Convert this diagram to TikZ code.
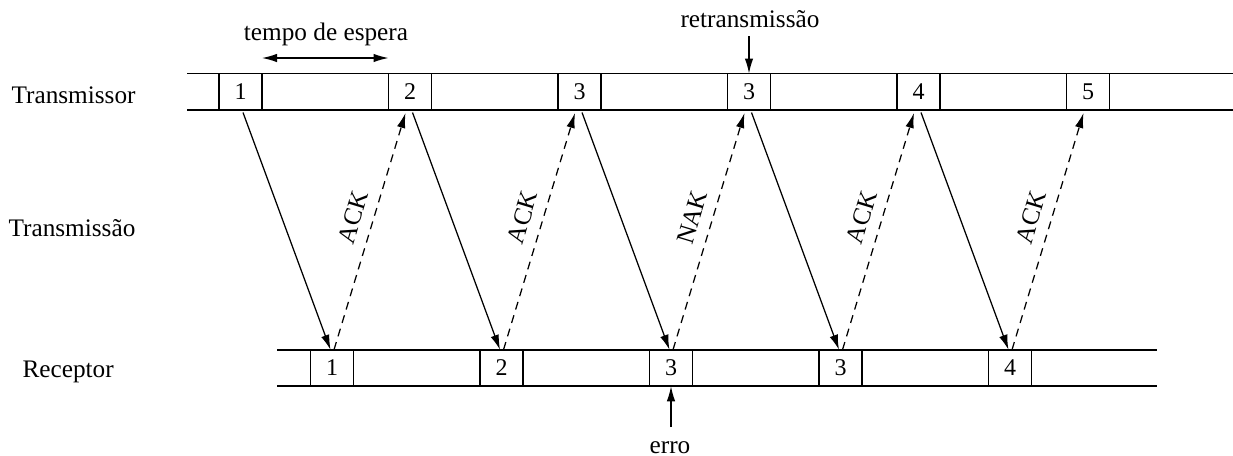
\documentclass[tikz,border=0pt]{standalone}
\usepackage{fontspec}
\setmainfont{Liberation Serif}
\usepackage{tikz}
\usetikzlibrary{arrows.meta, positioning, calc}

\begin{document}
\begin{tikzpicture}[
    x=0.4pt, y=-0.4pt,
    line width=0.5pt,
    node distance=50.6pt,
    frame/.style={rectangle, draw, minimum width=17.2pt, minimum height=14.6pt, inner sep=0pt, outer sep=0pt, font=\fontsize{9.6}{11}\selectfont},
    lbl/.style={font=\fontsize{10.1}{12}\selectfont},
    arrow/.style={-{Latex[length=6pt,width=3.4pt]}},
    ackarrow/.style={arrow, dash pattern=on 3.2pt off 2.4pt},
    acklbl/.style={lbl, sloped, above=1pt, pos=0.535}
]
\useasboundingbox (0,0) rectangle (1233,455);

% Linhas do transmissor e do receptor
\draw (187,73.5) -- (1233,73.5);
\draw (187,110) -- (1233,110);
\draw (277,350) -- (1157,350);
\draw (277,386) -- (1157,386);

% Quadros do transmissor
\node[frame] (t1) at (240.5,91.75) {1};
\node[frame, right=of t1] (t2) {2};
\node[frame, right=of t2] (t3) {3};
\node[frame, right=of t3] (t4) {3};
\node[frame, right=of t4] (t5) {4};
\node[frame, right=of t5] (t6) {5};

% Quadros do receptor
\node[frame] (r1) at (332,368) {1};
\node[frame, right=of r1] (r2) {2};
\node[frame, right=of r2] (r3) {3};
\node[frame, right=of r3] (r4) {3};
\node[frame, right=of r4] (r5) {4};

% Rotulos
\node[lbl, anchor=base west, inner xsep=0pt] (tx) at (11,103) {Transmissor};
\node[lbl, anchor=base west, inner xsep=0pt] (md) at (8,236) {Transmissão};
\node[lbl, anchor=base west, inner xsep=0pt] (rx) at (22,377) {Receptor};

% Envio dos quadros
\draw[arrow] ([shift={(1pt,-1pt)}]t1.south) -- ([xshift=-0.6pt]r1.north);
\draw[arrow] ([shift={(1pt,-1pt)}]t2.south) -- ([xshift=-0.6pt]r2.north);
\draw[arrow] ([shift={(1pt,-1pt)}]t3.south) -- ([xshift=-0.6pt]r3.north);
\draw[arrow] ([shift={(1pt,-1pt)}]t4.south) -- ([xshift=-0.6pt]r4.north);
\draw[arrow] ([shift={(1pt,-1pt)}]t5.south) -- ([xshift=-0.6pt]r5.north);

% Confirmacoes
\draw[ackarrow] ([xshift=0.8pt]r1.north) -- node[acklbl] {ACK} ([shift={(-1.8pt,-1.2pt)}]t2.south);
\draw[ackarrow] ([xshift=0.8pt]r2.north) -- node[acklbl] {ACK} ([shift={(-1.8pt,-1.2pt)}]t3.south);
\draw[ackarrow] ([xshift=0.8pt]r3.north) -- node[acklbl] {NAK} ([shift={(-1.8pt,-1.2pt)}]t4.south);
\draw[ackarrow] ([xshift=0.8pt]r4.north) -- node[acklbl] {ACK} ([shift={(-1.8pt,-1.2pt)}]t5.south);
\draw[ackarrow] ([xshift=0.8pt]r5.north) -- node[acklbl] {ACK} ([shift={(-1.8pt,-1.2pt)}]t6.south);

% Tempo de espera
\node[lbl, anchor=base] (espera) at (326,40) {tempo de espera};
\draw[arrow, {Latex[length=6pt,width=3.4pt]}-{Latex[length=6pt,width=3.4pt]}] ([yshift=6.2pt]t1.north east) -- ([yshift=6.2pt]t2.north west);

% Retransmissao e erro
\node[lbl, anchor=base] (retx) at (750,27) {retransmissão};
\draw[arrow] (retx.south -| t4.north) -- (t4.north);
\node[lbl, anchor=base] (erro) at (670,453) {erro};
\draw[arrow] ([yshift=2pt]erro.north -| r3.south) -- (r3.south);

\end{tikzpicture}
\end{document}
